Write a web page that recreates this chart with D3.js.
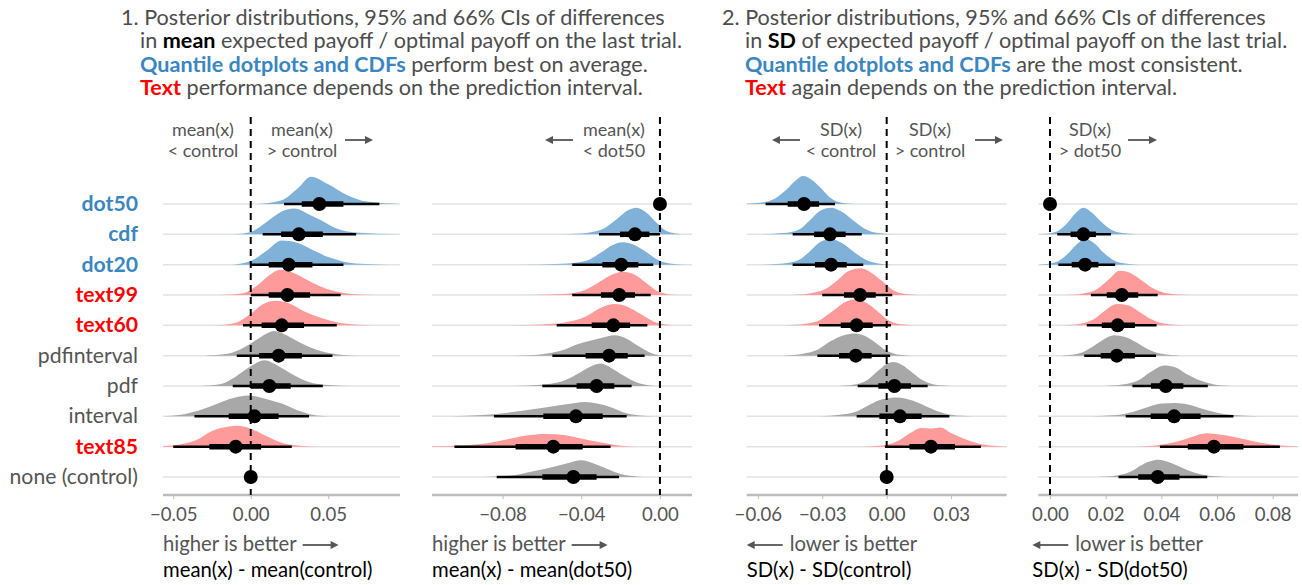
<!DOCTYPE html>
<html>
<head>
<meta charset="utf-8">
<script src="https://cdn.jsdelivr.net/npm/d3@7"></script>
<style>
  body { margin: 0; background: #fff; }
  svg { font-family: Lato, "Open Sans", sans-serif; }
</style>
</head>
<body>
<svg id="chart" width="1302" height="585"></svg>
<script>
// rows, top to bottom
var conditions = ["dot50", "cdf", "dot20", "text99", "text60", "pdfinterval", "pdf", "interval", "text85", "none (control)"];
var condGroup = ["vis", "vis", "vis", "text", "text", "other", "other", "other", "text", "other"];

// panel 1: mean(x) - mean(control)
var p1Median = [0.0443, 0.031, 0.0245, 0.0237, 0.020, 0.018, 0.012, 0.0024, -0.0097, 0];
var p1Lo66 = [0.0329, 0.0196, 0.0116, 0.0116, 0.007, 0.0054, 0.0, -0.0142, -0.0267, null];
var p1Hi66 = [0.0598, 0.0465, 0.0398, 0.0383, 0.0344, 0.033, 0.0258, 0.018, 0.0067, null];
var p1Lo95 = [0.0215, 0.0077, 0.0, 0.0, -0.005, -0.009, -0.0116, -0.0363, -0.050, null];
var p1Hi95 = [0.083, 0.068, 0.0598, 0.058, 0.0555, 0.0527, 0.0465, 0.0376, 0.0265, null];
var p1Dens = [
  [[0.005,0],[0.02,0.12],[0.03,0.5],[0.039,0.9],[0.05,0.65],[0.062,0.3],[0.075,0.08],[0.097,0]],
  [[-0.012,0],[0,0.08],[0.01,0.4],[0.02,0.75],[0.028,0.85],[0.038,0.65],[0.046,0.45],[0.055,0.2],[0.068,0.06],[0.096,0]],
  [[-0.012,0],[0,0.12],[0.01,0.45],[0.02,0.8],[0.03,0.72],[0.04,0.48],[0.05,0.25],[0.06,0.1],[0.075,0.02],[0.09,0]],
  [[-0.02,0],[-0.005,0.06],[0.005,0.35],[0.012,0.65],[0.019,0.83],[0.028,0.72],[0.038,0.45],[0.048,0.22],[0.06,0.07],[0.08,0]],
  [[-0.024,0],[-0.01,0.08],[0,0.38],[0.008,0.7],[0.016,0.81],[0.025,0.72],[0.035,0.45],[0.045,0.25],[0.058,0.08],[0.08,0]],
  [[-0.03,0],[-0.015,0.06],[-0.005,0.25],[0.003,0.5],[0.01,0.72],[0.015,0.81],[0.025,0.62],[0.033,0.4],[0.045,0.15],[0.06,0.02],[0.07,0]],
  [[-0.033,0],[-0.02,0.06],[-0.01,0.3],[0,0.65],[0.009,0.85],[0.018,0.65],[0.027,0.38],[0.037,0.14],[0.05,0.03],[0.065,0]],
  [[-0.057,0],[-0.045,0.05],[-0.033,0.2],[-0.02,0.45],[-0.01,0.62],[-0.002,0.69],[0.008,0.6],[0.02,0.42],[0.03,0.2],[0.04,0.05],[0.05,0]],
  [[-0.06,0.01],[-0.045,0.08],[-0.035,0.22],[-0.025,0.52],[-0.015,0.66],[-0.008,0.69],[0.002,0.55],[0.01,0.35],[0.02,0.13],[0.032,0.03],[0.045,0]],
  null
];

// panel 2: mean(x) - mean(dot50)
var p2Median = [0, -0.0127, -0.0197, -0.0207, -0.0237, -0.0259, -0.0322, -0.0427, -0.0542, -0.044];
var p2Lo66 = [null, -0.0203, -0.0293, -0.030, -0.0347, -0.0378, -0.0424, -0.0593, -0.0734, -0.0598];
var p2Hi66 = [null, -0.0054, -0.011, -0.0127, -0.0152, -0.0164, -0.0232, -0.0291, -0.0393, -0.0322];
var p2Lo95 = [null, -0.031, -0.0446, -0.0446, -0.0525, -0.0547, -0.0598, -0.0844, -0.1045, -0.083];
var p2Hi95 = [null, 0.0, -0.0034, -0.0047, -0.0064, -0.0078, -0.0144, -0.0169, -0.0251, -0.0208];
var p2Dens = [
  null,
  [[-0.058,0],[-0.04,0.03],[-0.03,0.15],[-0.022,0.5],[-0.016,0.8],[-0.012,0.88],[-0.007,0.72],[-0.002,0.4],[0.003,0.12],[0.008,0.03],[0.014,0]],
  [[-0.072,0],[-0.05,0.03],[-0.038,0.12],[-0.03,0.4],[-0.024,0.65],[-0.019,0.74],[-0.013,0.65],[-0.007,0.42],[-0.001,0.15],[0.006,0.03],[0.014,0]],
  [[-0.072,0],[-0.05,0.03],[-0.04,0.12],[-0.032,0.38],[-0.025,0.65],[-0.019,0.77],[-0.013,0.68],[-0.007,0.4],[-0.001,0.12],[0.005,0.02],[0.012,0]],
  [[-0.08,0],[-0.06,0.03],[-0.048,0.1],[-0.038,0.28],[-0.03,0.58],[-0.023,0.7],[-0.016,0.6],[-0.01,0.38],[-0.003,0.12],[0.004,0.02],[0.01,0]],
  [[-0.075,0],[-0.06,0.05],[-0.05,0.17],[-0.042,0.38],[-0.035,0.5],[-0.029,0.6],[-0.023,0.67],[-0.017,0.56],[-0.011,0.32],[-0.005,0.1],[0.002,0]],
  [[-0.075,0],[-0.058,0.06],[-0.048,0.2],[-0.04,0.47],[-0.035,0.65],[-0.03,0.74],[-0.025,0.6],[-0.019,0.36],[-0.012,0.12],[-0.005,0.02],[0.002,0]],
  [[-0.106,0],[-0.09,0.04],[-0.075,0.14],[-0.063,0.25],[-0.052,0.36],[-0.043,0.44],[-0.038,0.47],[-0.032,0.42],[-0.025,0.3],[-0.018,0.12],[-0.01,0.03],[-0.003,0]],
  [[-0.118,0.01],[-0.1,0.04],[-0.088,0.11],[-0.078,0.24],[-0.068,0.37],[-0.058,0.42],[-0.048,0.38],[-0.04,0.27],[-0.032,0.16],[-0.022,0.05],[-0.012,0]],
  [[-0.09,0],[-0.075,0.05],[-0.065,0.18],[-0.055,0.32],[-0.047,0.45],[-0.04,0.55],[-0.034,0.45],[-0.028,0.3],[-0.02,0.1],[-0.012,0.02],[-0.005,0]]
];

// panel 3: SD(x) - SD(control)
var p3Median = [-0.0385, -0.0264, -0.0259, -0.0124, -0.014, -0.0144, 0.0036, 0.0062, 0.0206, 0];
var p3Lo66 = [-0.0461, -0.0338, -0.0334, -0.0199, -0.0214, -0.0222, -0.0039, -0.0034, 0.0106, null];
var p3Hi66 = [-0.0315, -0.0191, -0.0186, -0.0051, -0.0065, -0.007, 0.0113, 0.0163, 0.0318, null];
var p3Lo95 = [-0.0564, -0.0438, -0.0438, -0.030, -0.0315, -0.0323, -0.0135, -0.014, -0.0008, null];
var p3Hi95 = [-0.0241, -0.0116, -0.0109, 0.0026, 0.002, 0.0016, 0.0191, 0.0292, 0.0439, null];
var p3Dens = [
  [[-0.068,0],[-0.058,0.05],[-0.052,0.18],[-0.047,0.45],[-0.042,0.8],[-0.039,0.92],[-0.035,0.8],[-0.031,0.55],[-0.027,0.25],[-0.022,0.06],[-0.015,0]],
  [[-0.058,0],[-0.048,0.04],[-0.041,0.15],[-0.036,0.45],[-0.031,0.78],[-0.026,0.88],[-0.021,0.75],[-0.016,0.48],[-0.01,0.18],[-0.004,0.04],[0.002,0]],
  [[-0.058,0],[-0.048,0.04],[-0.041,0.15],[-0.036,0.43],[-0.031,0.75],[-0.026,0.85],[-0.021,0.72],[-0.016,0.46],[-0.01,0.17],[-0.004,0.04],[0.002,0]],
  [[-0.045,0],[-0.036,0.05],[-0.029,0.18],[-0.023,0.48],[-0.018,0.78],[-0.012,0.88],[-0.007,0.73],[-0.002,0.45],[0.003,0.16],[0.008,0.04],[0.015,0]],
  [[-0.047,0],[-0.038,0.05],[-0.031,0.18],[-0.025,0.48],[-0.019,0.78],[-0.014,0.86],[-0.009,0.72],[-0.004,0.45],[0.001,0.16],[0.006,0.04],[0.013,0]],
  [[-0.048,0],[-0.039,0.06],[-0.032,0.2],[-0.026,0.48],[-0.021,0.65],[-0.015,0.73],[-0.01,0.65],[-0.005,0.42],[0,0.16],[0.005,0.04],[0.012,0]],
  [[-0.023,0],[-0.015,0.05],[-0.009,0.2],[-0.004,0.5],[0,0.73],[0.003,0.79],[0.007,0.7],[0.012,0.44],[0.017,0.18],[0.022,0.05],[0.03,0]],
  [[-0.031,0],[-0.022,0.05],[-0.014,0.16],[-0.008,0.38],[-0.002,0.56],[0.005,0.62],[0.012,0.52],[0.018,0.34],[0.024,0.16],[0.03,0.05],[0.04,0]],
  [[-0.012,0],[-0.002,0.04],[0.005,0.18],[0.011,0.45],[0.016,0.62],[0.021,0.6],[0.025,0.63],[0.03,0.45],[0.036,0.26],[0.043,0.1],[0.05,0.03],[0.058,0]],
  null
];

// panel 4: SD(x) - SD(dot50)
var p4Median = [0, 0.012, 0.0126, 0.0258, 0.0243, 0.024, 0.0416, 0.0446, 0.0589, 0.0387];
var p4Lo66 = [null, 0.0074, 0.0078, 0.0204, 0.0186, 0.0182, 0.0363, 0.0362, 0.0495, 0.0317];
var p4Hi66 = [null, 0.0165, 0.0174, 0.0317, 0.0305, 0.0305, 0.0479, 0.0541, 0.0695, 0.0465];
var p4Lo95 = [null, 0.0026, 0.003, 0.0147, 0.0132, 0.0123, 0.0296, 0.0272, 0.0395, 0.0246];
var p4Hi95 = [null, 0.0219, 0.0234, 0.0387, 0.0383, 0.0381, 0.0567, 0.0659, 0.0826, 0.0565];
var p4Dens = [
  null,
  [[-0.004,0],[0.002,0.08],[0.006,0.35],[0.009,0.68],[0.012,0.88],[0.015,0.72],[0.018,0.45],[0.022,0.15],[0.026,0.04],[0.031,0]],
  [[-0.004,0],[0.002,0.08],[0.006,0.33],[0.0095,0.66],[0.0125,0.85],[0.016,0.7],[0.019,0.42],[0.023,0.14],[0.027,0.04],[0.032,0]],
  [[0.006,0],[0.012,0.05],[0.017,0.2],[0.021,0.5],[0.025,0.8],[0.029,0.72],[0.033,0.48],[0.037,0.22],[0.042,0.06],[0.05,0]],
  [[0.005,0],[0.011,0.05],[0.016,0.22],[0.02,0.5],[0.024,0.7],[0.028,0.66],[0.032,0.45],[0.036,0.22],[0.041,0.06],[0.048,0]],
  [[0.004,0],[0.01,0.06],[0.015,0.28],[0.019,0.52],[0.023,0.67],[0.027,0.62],[0.031,0.44],[0.035,0.22],[0.04,0.06],[0.047,0]],
  [[0.019,0],[0.026,0.05],[0.032,0.2],[0.036,0.45],[0.041,0.68],[0.045,0.62],[0.049,0.4],[0.054,0.18],[0.059,0.05],[0.065,0]],
  [[0.015,0],[0.024,0.04],[0.03,0.15],[0.035,0.3],[0.04,0.42],[0.045,0.44],[0.05,0.38],[0.055,0.24],[0.06,0.12],[0.066,0.04],[0.075,0]],
  [[0.031,0],[0.038,0.04],[0.045,0.15],[0.051,0.32],[0.056,0.44],[0.061,0.4],[0.067,0.3],[0.073,0.18],[0.08,0.07],[0.086,0.02],[0.092,0]],
  [[0.017,0],[0.024,0.05],[0.029,0.18],[0.033,0.4],[0.036,0.52],[0.039,0.57],[0.043,0.48],[0.047,0.32],[0.052,0.14],[0.057,0.04],[0.064,0]]
];

var p1Ticks = [-0.05, 0, 0.05];
var p2Ticks = [-0.08, -0.04, 0];
var p3Ticks = [-0.06, -0.03, 0, 0.03];
var p4Ticks = [0, 0.02, 0.04, 0.06, 0.08];

var fillColor = { vis: "#80b1d8", text: "#ff9a9a", other: "#a8a8a8" };
var labelColor = { vis: "#3a86c0", text: "#ff0000", other: "#555555" };
var grey = "#555555";

var panels = [
  { median: p1Median, lo66: p1Lo66, hi66: p1Hi66, lo95: p1Lo95, hi95: p1Hi95, dens: p1Dens, ticks: p1Ticks,
    domain: [-0.0566, 0.0963], range: [163, 400], better: "higher is better", dir: 1, title: "mean(x) - mean(control)" },
  { median: p2Median, lo66: p2Lo66, hi66: p2Hi66, lo95: p2Lo95, hi95: p2Hi95, dens: p2Dens, ticks: p2Ticks,
    domain: [-0.1159, 0.0163], range: [432, 692], better: "higher is better", dir: 1, title: "mean(x) - mean(dot50)" },
  { median: p3Median, lo66: p3Lo66, hi66: p3Hi66, lo95: p3Lo95, hi95: p3Hi95, dens: p3Dens, ticks: p3Ticks,
    domain: [-0.0652, 0.0559], range: [746.7, 1006.7], better: "lower is better", dir: -1, title: "SD(x) - SD(control)" },
  { median: p4Median, lo66: p4Lo66, hi66: p4Hi66, lo95: p4Lo95, hi95: p4Hi95, dens: p4Dens, ticks: p4Ticks,
    domain: [-0.0042, 0.0891], range: [1038.3, 1298], better: "lower is better", dir: -1, title: "SD(x) - SD(dot50)" }
];

var svg = d3.select("#chart");
var y = d3.scalePoint().domain(conditions).range([204, 477]);
var rowH = 30.3;
var axisY = 495;
var fmt = d3.format(".2f");

// small arrow: line with filled head, pointing right (dir 1) or left (dir -1)
function arrow(g, x1, x2, yy, color) {
  var dir = x2 > x1 ? 1 : -1;
  g.append("line").attr("x1", x1).attr("x2", x2 - dir * 6).attr("y1", yy).attr("y2", yy)
    .attr("stroke", color).attr("stroke-width", 1.8);
  g.append("path")
    .attr("d", "M" + x2 + "," + yy + "L" + (x2 - dir * 8) + "," + (yy - 4) + "L" + (x2 - dir * 8) + "," + (yy + 4) + "Z")
    .attr("fill", color);
}

// y labels
svg.append("g").selectAll("text")
  .data(conditions)
  .enter().append("text")
    .attr("x", 138)
    .attr("y", function(d) { return y(d) + 7; })
    .attr("text-anchor", "end")
    .attr("font-size", 21.2)
    .attr("font-weight", function(d, i) { return condGroup[i] === "other" ? 400 : 700; })
    .attr("fill", function(d, i) { return labelColor[condGroup[i]]; })
    .text(function(d) { return d; });

panels.forEach(function(p, pi) {
  var x = d3.scaleLinear().domain(p.domain).range(p.range);
  var g = svg.append("g");

  g.append("clipPath").attr("id", "clip" + pi)
    .append("rect").attr("x", p.range[0]).attr("y", 100)
    .attr("width", p.range[1] - p.range[0]).attr("height", 400);

  // row grid lines
  g.append("g").selectAll("line")
    .data(conditions)
    .enter().append("line")
      .attr("x1", p.range[0]).attr("x2", p.range[1])
      .attr("y1", function(d) { return y(d); })
      .attr("y2", function(d) { return y(d); })
      .attr("stroke", "#e3e3e3")
      .attr("stroke-width", 1.5);

  // densities
  var area = d3.area()
    .x(function(d) { return x(d[0]); })
    .y0(0)
    .y1(function(d) { return -d[1] * rowH; })
    .curve(d3.curveMonotoneX);

  g.append("g").attr("clip-path", "url(#clip" + pi + ")")
    .selectAll("path")
    .data(conditions)
    .enter().filter(function(d, i) { return p.dens[i]; })
    .append("path")
      .attr("transform", function(d) { return "translate(0," + y(d) + ")"; })
      .attr("d", function(d) { return area(p.dens[conditions.indexOf(d)]); })
      .attr("fill", function(d) { return fillColor[condGroup[conditions.indexOf(d)]]; });

  // axis
  var axis = d3.axisBottom(x).tickValues(p.ticks).tickFormat(fmt).tickSize(4).tickPadding(9);
  var ax = g.append("g").attr("transform", "translate(0," + axisY + ")").call(axis);
  ax.select(".domain").attr("stroke", "#bdbdbd").attr("stroke-width", 2.5)
    .attr("d", "M" + p.range[0] + ",0H" + p.range[1]);
  ax.selectAll(".tick line").attr("stroke", "#bdbdbd").attr("stroke-width", 1);
  ax.selectAll(".tick text").attr("fill", grey).attr("font-size", 18.6)
    .attr("font-family", "Lato, sans-serif");

  // reference line
  g.append("line")
    .attr("x1", x(0)).attr("x2", x(0))
    .attr("y1", 117).attr("y2", axisY)
    .attr("stroke", "#000").attr("stroke-width", 2)
    .attr("stroke-dasharray", "7,5");

  // intervals
  var iv = g.append("g");
  conditions.forEach(function(c, i) {
    if (p.lo95[i] !== null) {
      iv.append("line").attr("x1", x(p.lo95[i])).attr("x2", x(p.hi95[i]))
        .attr("y1", y(c)).attr("y2", y(c)).attr("stroke", "#000").attr("stroke-width", 2.5);
      iv.append("line").attr("x1", x(p.lo66[i])).attr("x2", x(p.hi66[i]))
        .attr("y1", y(c)).attr("y2", y(c)).attr("stroke", "#000").attr("stroke-width", 5.5);
    }
    iv.append("circle").attr("cx", x(p.median[i])).attr("cy", y(c)).attr("r", 7).attr("fill", "#000");
  });

  // x-axis captions
  var cx0 = p.range[0] + (pi === 3 ? -6 : 0);
  if (p.dir > 0) {
    var cap = g.append("text").attr("x", cx0).attr("y", 551)
      .attr("font-size", 20.3).attr("fill", grey).text(p.better);
    var w = cap.node().getComputedTextLength();
    arrow(g, cx0 + w + 6, cx0 + w + 42, 545, grey);
  } else {
    arrow(g, cx0 + 36, cx0, 545, grey);
    g.append("text").attr("x", cx0 + 43).attr("y", 551)
      .attr("font-size", 20.3).attr("fill", grey).text(p.better);
  }
  g.append("text").attr("x", cx0).attr("y", 577)
    .attr("font-size", 20.3).attr("fill", "#000").text(p.title);
});

// annotations above panels
var notes = [
  { x: 203, l1: "mean(x)", l2: "< control" },
  { x: 302, l1: "mean(x)", l2: "> control" },
  { x: 614, l1: "mean(x)", l2: "< dot50" },
  { x: 841, l1: "SD(x)", l2: "< control" },
  { x: 930, l1: "SD(x)", l2: "> control" },
  { x: 1090, l1: "SD(x)", l2: "> dot50" }
];
var ng = svg.append("g").attr("fill", grey).attr("font-size", 18).attr("text-anchor", "middle");
notes.forEach(function(n) {
  ng.append("text").attr("x", n.x).attr("y", 136).text(n.l1);
  ng.append("text").attr("x", n.x).attr("y", 157).text(n.l2);
});
var arrows = [[345, 373], [573, 545], [800, 772], [975, 1003], [1128, 1157]];
arrows.forEach(function(a) { arrow(ng, a[0], a[1], 140, grey); });

// titles
function titleBlock(x0, x1, lines) {
  var tg = svg.append("g").attr("font-size", 21.6).attr("fill", "#4d4d4d");
  lines.forEach(function(parts, li) {
    var t = tg.append("text").attr("x", li === 0 ? x0 : x1).attr("y", 25 + li * 23.4);
    parts.forEach(function(pt) {
      var s = t.append("tspan").text(pt[0]);
      if (pt[1]) s.attr("fill", pt[1]).attr("font-weight", 700);
    });
  });
}
titleBlock(121, 140, [
  [["1. Posterior distributions, 95% and 66% CIs of differences"]],
  [["in "], ["mean", "#000"], [" expected payoff / optimal payoff on the last trial."]],
  [["Quantile dotplots and CDFs", labelColor.vis], [" perform best on average."]],
  [["Text", "#ff0000"], [" performance depends on the prediction interval."]]
]);
titleBlock(722, 745, [
  [["2. Posterior distributions, 95% and 66% CIs of differences"]],
  [["in "], ["SD", "#000"], [" of expected payoff / optimal payoff on the last trial."]],
  [["Quantile dotplots and CDFs", labelColor.vis], [" are the most consistent."]],
  [["Text", "#ff0000"], [" again depends on the prediction interval."]]
]);
</script>
</body>
</html>
